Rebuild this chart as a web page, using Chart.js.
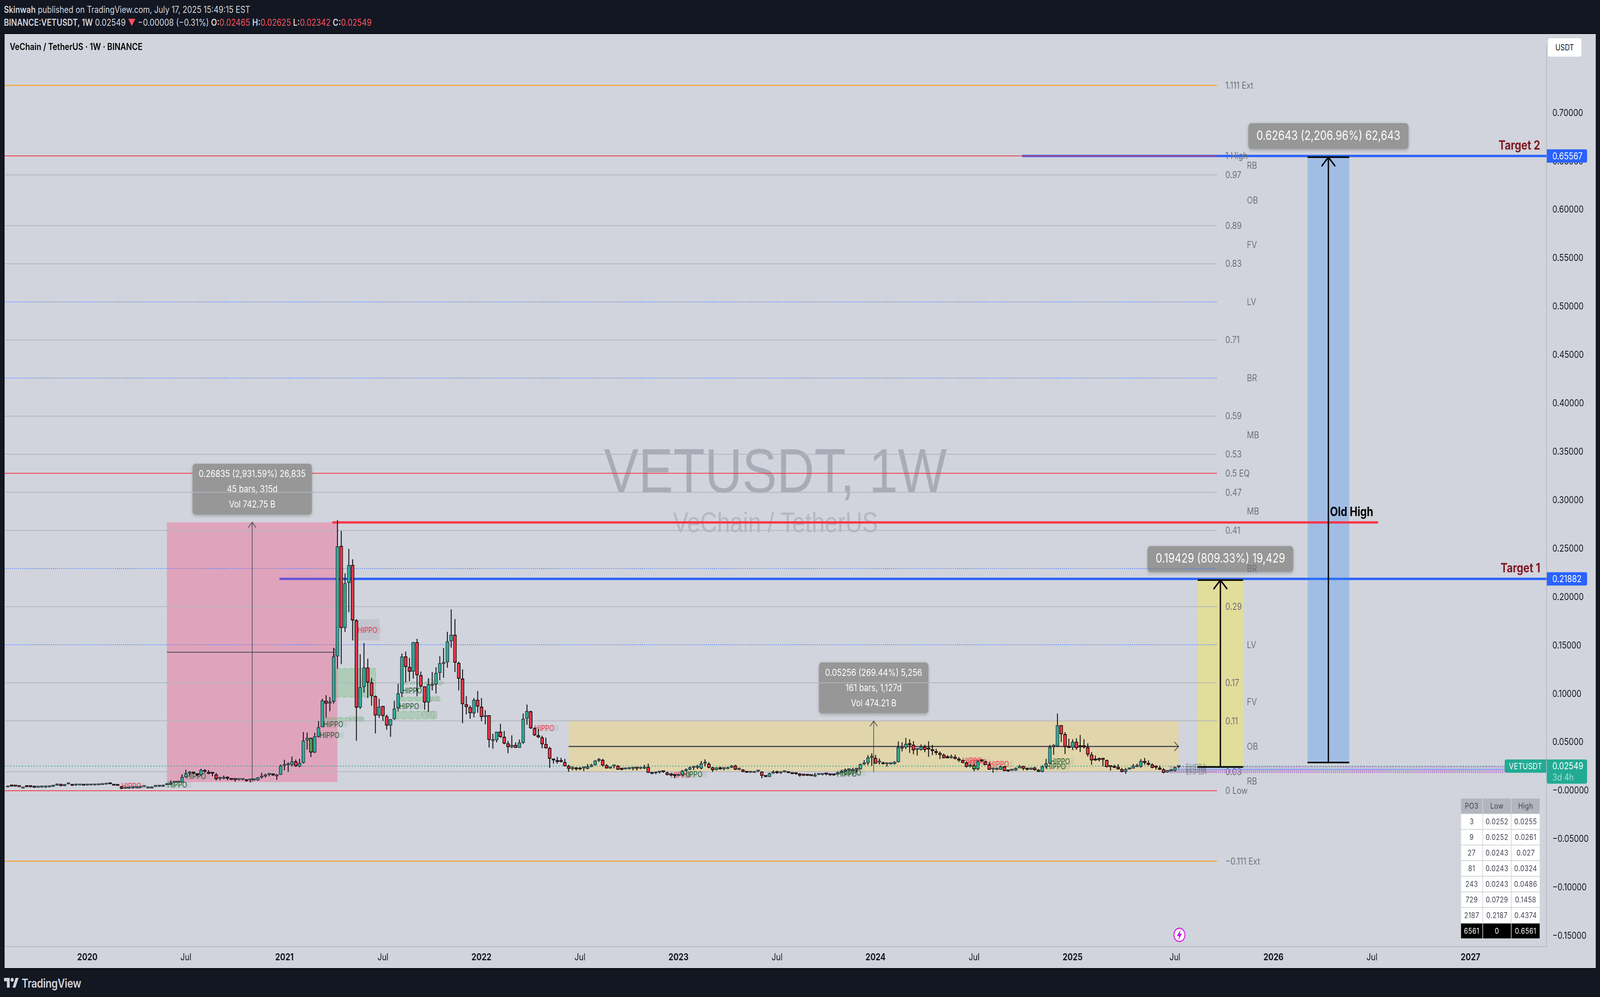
<!DOCTYPE html>
<html><head><meta charset="utf-8"><title>VETUSDT 1W</title>
<script src="https://cdn.jsdelivr.net/npm/chart.js@4/dist/chart.umd.min.js"></script>
<style>
html,body{margin:0;padding:0;background:#131722;width:100%;height:100%;overflow:hidden;font-family:Inter,"Liberation Sans",sans-serif}
#root{position:absolute;left:0;top:0;width:4938px;height:2552px;transform-origin:0 0;background:#131722;overflow:hidden}
#frame{position:absolute;left:12px;top:85px;width:4914px;height:2395px;background:#000}
#pane{position:absolute;left:14px;top:87px;width:4911px;height:2391px;background:#d1d4dc}
canvas{display:block}
.h{position:absolute;white-space:nowrap;color:#d1d4dc;font-size:23.8px;line-height:30px;left:12px}
.r{color:#f7525f}
b{font-weight:600}
#title{position:absolute;left:30px;top:105px;font-size:24px;line-height:30px;font-weight:600;color:#000;white-space:nowrap}
#unit{position:absolute;left:4777px;top:98px;width:104px;height:47px;line-height:47px;background:#fff;border-radius:6px;text-align:center;font-size:21px;color:#131722}
#logoText{position:absolute;left:67px;top:2497px;font-size:31px;line-height:40px;font-weight:600;color:#d1d4dc;letter-spacing:-.5px}
#po3{position:absolute;left:4509px;top:2044px;display:grid;grid-template-columns:66px 86px 87px;column-gap:2px;row-gap:2px;font-size:20px;letter-spacing:.6px;color:#434651;text-align:center}
#po3 div{height:38px;line-height:38px;background:#fff}
#po3 div.hd{background:#b2b5be}
#po3 div.ft{background:#000;color:#fff}
</style></head><body>
<div id="root">
<div class="h" style="top:10px"><b>Skinwah</b> published on TradingView.com, July 17, 2025 15:49:15 EST</div>
<div class="h" style="top:43px"><b>BINANCE:VETUSDT, 1W</b> 0.02549 <span class="r">▼</span> −0.00008 (−0.31%) <b>O:</b><span class="r">0.02465</span> <b>H:</b><span class="r">0.02625</span> <b>L:</b><span class="r">0.02342</span> <b>C:</b><span class="r">0.02549</span></div>
<div id="frame"></div>
<div id="pane"><canvas id="c" width="4911" height="2391" style="width:4911px;height:2391px"></canvas></div>
<div id="title">VeChain / TetherUS · 1W · BINANCE</div>
<div id="unit">USDT</div>
<div id="po3"></div>
<svg style="position:absolute;left:3620px;top:2373px" width="40" height="40" viewBox="0 0 40 40"><circle cx="20" cy="20" r="17" fill="#fff" stroke="#d81be0" stroke-width="3"/><path d="M23 7 L12 23 H19 L17 33 L28 17 H21 Z" fill="#b81bd8"/></svg>
<svg style="position:absolute;left:12px;top:2503px" width="46" height="25" viewBox="0 0 36 20"><path fill="#d1d4dc" d="M14 20H7V7H0V0h14zM28 20h-7L28.5 0H36z"/><circle cx="20" cy="4" r="4" fill="#d1d4dc"/></svg>
<div id="logoText">TradingView</div>
</div>
<script>
// The browser window can be narrower than the page: fit the whole page into it.
const rootEl=document.getElementById('root');
rootEl.style.transform='scale('+(innerWidth/4938)+','+(innerHeight/2552)+')';

// ---- candle values, oldest to newest, one entry per week
const opens=[.0052,.0047,.0046,.0041,.0040,.0040,.0040,.0035,.0034,.0035,
.0037,.0038,.0043,.0055,.0070,.0050,.0068,.0068,.0056,.0057,
.0056,.0056,.0057,.0058,.0059,.0062,.0066,.0073,.0066,.0055,
.0045,.0024,.0025,.0027,.0030,.0032,.0040,.0042,.0042,.0042,
.0043,.0043,.0061,.0066,.0084,.0087,.0087,.0141,.0180,.0184,
.0175,.0162,.0214,.0194,.0180,.0167,.0125,.0125,.0139,.0126,
.0114,.0113,.0114,.0116,.0110,.0111,.0109,.0137,.0150,.0167,
.0161,.0166,.0166,.0258,.0266,.0269,.0303,.0253,.0289,.0520,
.0397,.0397,.0559,.0658,.0928,.0903,.0922,.1389,.2528,.1682,
.2148,.2331,.1758,.0861,.1072,.1272,.1117,.0977,.0779,.0875,
.0769,.0675,.0742,.0853,.1009,.1386,.1277,.1232,.1535,.1193,
.1078,.0913,.1102,.1099,.1218,.1328,.1327,.1546,.1610,.1320,
.1157,.0893,.0862,.0801,.0938,.0867,.0763,.0779,.0531,.0523,
.0608,.0557,.0488,.0452,.0472,.0445,.0498,.0746,.0819,.0644,
.0572,.0551,.0481,.0441,.0330,.0312,.0302,.0296,.0256,.0226,
.0240,.0233,.0234,.0228,.0247,.0266,.0311,.0318,.0262,.0231,
.0254,.0257,.0225,.0223,.0226,.0229,.0231,.0230,.0230,.0244,
.0188,.0182,.0189,.0195,.0188,.0168,.0160,.0156,.0160,.0206,
.0220,.0240,.0240,.0232,.0282,.0278,.0240,.0216,.0238,.0226,
.0226,.0240,.0259,.0220,.0218,.0196,.0188,.0187,.0200,.0196,
.0156,.0144,.0180,.0200,.0184,.0193,.0193,.0184,.0178,.0177,
.0164,.0162,.0157,.0148,.0166,.0166,.0177,.0170,.0176,.0171,
.0187,.0200,.0213,.0207,.0220,.0224,.0274,.0286,.0342,.0337,
.0293,.0290,.0277,.0276,.0277,.0297,.0453,.0448,.0484,.0474,
.0425,.0423,.0456,.0430,.0425,.0409,.0389,.0370,.0342,.0339,
.0349,.0330,.0315,.0290,.0249,.0224,.0224,.0313,.0303,.0269,
.0223,.0218,.0220,.0249,.0206,.0210,.0211,.0235,.0255,.0229,
.0220,.0238,.0196,.0196,.0250,.0283,.0457,.0461,.0676,.0584,
.0456,.0448,.0504,.0452,.0452,.0448,.0372,.0326,.0326,.0323,
.0317,.0248,.0249,.0246,.0222,.0196,.0222,.0232,.0248,.0249,
.0306,.0286,.0270,.0242,.0237,.0220,.0191,.0204,.0206,.02465];
const highs=[.0053,.0048,.0047,.0042,.0041,.0041,.0040,.0036,.0036,.0037,
.0039,.0042,.0056,.0074,.0071,.0068,.0075,.0070,.0058,.0059,
.0057,.0058,.0060,.0060,.0062,.0067,.0075,.0074,.0067,.0057,
.0047,.0027,.0028,.0031,.0034,.0041,.0044,.0044,.0044,.0044,
.0045,.0062,.0076,.0105,.0090,.0090,.0169,.0216,.0201,.0190,
.0180,.0226,.0221,.0212,.0187,.0182,.0141,.0155,.0146,.0129,
.0116,.0115,.0122,.0118,.0116,.0117,.0140,.0185,.0176,.0178,
.0178,.0173,.0269,.0319,.0292,.0351,.0321,.0330,.0605,.0600,
.0548,.0597,.0719,.0948,.0986,.0967,.1473,.2795,.2684,.2245,
.2497,.2390,.1772,.1409,.1525,.1362,.1164,.0983,.0948,.0875,
.0785,.0739,.0928,.1105,.1417,.1437,.1371,.1535,.1569,.1230,
.1078,.1161,.1226,.1274,.1389,.1473,.1640,.1871,.1772,.1331,
.1252,.0976,.0880,.0956,.1029,.0956,.0830,.0779,.0587,.0608,
.0690,.0617,.0514,.0571,.0498,.0527,.0797,.0889,.0826,.0655,
.0637,.0567,.0547,.0452,.0330,.0348,.0339,.0328,.0266,.0253,
.0243,.0243,.0243,.0273,.0277,.0315,.0336,.0328,.0273,.0249,
.0260,.0262,.0230,.0235,.0240,.0233,.0233,.0240,.0266,.0279,
.0193,.0196,.0196,.0196,.0196,.0173,.0166,.0173,.0213,.0229,
.0249,.0250,.0266,.0306,.0323,.0293,.0246,.0240,.0249,.0240,
.0246,.0266,.0266,.0233,.0222,.0200,.0196,.0200,.0206,.0200,
.0158,.0187,.0209,.0206,.0193,.0200,.0196,.0186,.0182,.0180,
.0167,.0166,.0160,.0183,.0180,.0173,.0180,.0176,.0177,.0192,
.0213,.0229,.0230,.0236,.0233,.0279,.0315,.0366,.0385,.0368,
.0332,.0299,.0283,.0285,.0306,.0509,.0498,.0545,.0531,.0511,
.0431,.0478,.0474,.0511,.0472,.0432,.0405,.0382,.0366,.0372,
.0372,.0346,.0320,.0299,.0279,.0279,.0315,.0320,.0306,.0293,
.0233,.0240,.0257,.0253,.0213,.0222,.0240,.0266,.0256,.0236,
.0238,.0246,.0223,.0262,.0328,.0472,.0478,.0797,.0677,.0604,
.0538,.0531,.0541,.0575,.0531,.0488,.0399,.0363,.0342,.0326,
.0319,.0250,.0266,.0273,.0235,.0235,.0240,.0276,.0279,.0326,
.0337,.0312,.0283,.0260,.0260,.0233,.0213,.0222,.0246,.02625];
const lows=[.0051,.0045,.0044,.0039,.0039,.0038,.0038,.0033,.0033,.0034,
.0030,.0037,.0042,.0054,.0049,.0049,.0066,.0052,.0052,.0056,
.0054,.0055,.0056,.0057,.0058,.0061,.0065,.0068,.0054,.0051,
.0017,.0021,.0022,.0025,.0027,.0030,.0039,.0040,.0039,.0040,
.0041,.0042,.0060,.0064,.0083,.0085,.0085,.0137,.0164,.0175,
.0155,.0158,.0185,.0173,.0151,.0109,.0110,.0120,.0110,.0112,
.0096,.0108,.0110,.0096,.0087,.0105,.0105,.0127,.0137,.0151,
.0155,.0114,.0165,.0212,.0196,.0253,.0248,.0244,.0283,.0426,
.0349,.0390,.0552,.0658,.0757,.0823,.0902,.1263,.1309,.1641,
.1846,.1554,.0518,.0846,.1016,.0960,.0879,.0594,.0754,.0722,
.0631,.0559,.0734,.0823,.0970,.1123,.1132,.1161,.0978,.1066,
.0839,.0816,.1038,.1006,.1144,.1168,.1273,.1480,.1228,.1038,
.0700,.0790,.0744,.0759,.0807,.0720,.0688,.0449,.0436,.0501,
.0548,.0481,.0389,.0441,.0445,.0445,.0485,.0684,.0640,.0568,
.0548,.0441,.0437,.0239,.0282,.0282,.0294,.0253,.0196,.0213,
.0210,.0217,.0206,.0225,.0245,.0262,.0299,.0250,.0230,.0230,
.0233,.0217,.0213,.0222,.0223,.0213,.0213,.0225,.0226,.0186,
.0173,.0173,.0180,.0187,.0160,.0153,.0131,.0153,.0156,.0200,
.0216,.0216,.0226,.0224,.0253,.0233,.0196,.0213,.0220,.0213,
.0226,.0237,.0216,.0213,.0193,.0186,.0186,.0186,.0193,.0131,
.0142,.0143,.0177,.0177,.0177,.0190,.0183,.0172,.0168,.0147,
.0153,.0155,.0152,.0145,.0164,.0160,.0160,.0156,.0158,.0168,
.0185,.0197,.0205,.0203,.0193,.0222,.0266,.0266,.0260,.0279,
.0273,.0273,.0250,.0272,.0273,.0293,.0408,.0432,.0392,.0379,
.0366,.0415,.0399,.0352,.0370,.0372,.0330,.0336,.0336,.0335,
.0326,.0299,.0285,.0240,.0243,.0203,.0213,.0299,.0269,.0217,
.0187,.0213,.0217,.0202,.0196,.0206,.0207,.0233,.0213,.0213,
.0217,.0209,.0193,.0191,.0233,.0279,.0372,.0458,.0505,.0381,
.0442,.0421,.0425,.0401,.0438,.0355,.0270,.0310,.0306,.0253,
.0243,.0210,.0236,.0220,.0190,.0176,.0220,.0230,.0246,.0240,
.0270,.0262,.0233,.0220,.0216,.0183,.0187,.0201,.0200,.02342];
const closes=[.0052,.0046,.0045,.0040,.0040,.0039,.0039,.0034,.0035,.0036,
.0038,.0041,.0055,.0073,.0050,.0068,.0071,.0053,.0057,.0058,
.0055,.0057,.0059,.0059,.0062,.0066,.0074,.0070,.0055,.0053,
.0023,.0025,.0027,.0030,.0032,.0040,.0042,.0042,.0042,.0043,
.0044,.0061,.0068,.0084,.0087,.0089,.0141,.0180,.0184,.0180,
.0160,.0214,.0198,.0176,.0178,.0123,.0127,.0141,.0127,.0114,
.0113,.0114,.0119,.0102,.0111,.0112,.0137,.0148,.0167,.0168,
.0160,.0166,.0258,.0266,.0271,.0303,.0255,.0287,.0517,.0545,
.0545,.0561,.0655,.0932,.0903,.0917,.1386,.2524,.1682,.2143,
.2331,.1761,.0861,.1069,.1272,.1120,.0981,.0779,.0868,.0774,
.0675,.0739,.0849,.1004,.1386,.1280,.1232,.1535,.1195,.1079,
.0913,.1098,.1102,.1217,.1317,.1328,.1543,.1610,.1325,.1159,
.0896,.0866,.0803,.0938,.0870,.0763,.0779,.0527,.0531,.0608,
.0558,.0489,.0452,.0472,.0445,.0497,.0744,.0823,.0647,.0574,
.0554,.0482,.0442,.0332,.0316,.0299,.0300,.0255,.0229,.0240,
.0224,.0222,.0235,.0249,.0267,.0311,.0318,.0262,.0233,.0249,
.0258,.0220,.0220,.0226,.0228,.0231,.0230,.0236,.0244,.0187,
.0176,.0187,.0193,.0194,.0164,.0160,.0155,.0168,.0206,.0220,
.0242,.0246,.0246,.0282,.0287,.0240,.0216,.0240,.0224,.0233,
.0240,.0258,.0220,.0224,.0196,.0188,.0193,.0198,.0203,.0156,
.0144,.0180,.0198,.0184,.0193,.0197,.0184,.0175,.0173,.0157,
.0158,.0156,.0154,.0166,.0173,.0173,.0171,.0163,.0160,.0189,
.0200,.0217,.0220,.0220,.0226,.0274,.0286,.0342,.0344,.0282,
.0294,.0277,.0278,.0278,.0297,.0449,.0453,.0484,.0474,.0419,
.0426,.0456,.0423,.0427,.0411,.0392,.0371,.0339,.0338,.0350,
.0331,.0313,.0290,.0249,.0263,.0262,.0306,.0306,.0269,.0220,
.0225,.0226,.0249,.0206,.0202,.0216,.0233,.0255,.0229,.0220,
.0238,.0216,.0216,.0250,.0282,.0449,.0459,.0676,.0587,.0456,
.0445,.0504,.0443,.0451,.0451,.0375,.0315,.0314,.0319,.0322,
.0246,.0247,.0240,.0224,.0196,.0222,.0230,.0257,.0259,.0306,
.0289,.0270,.0240,.0241,.0220,.0187,.0213,.0217,.0242,.02549];
const greenCandles=[80,255,272];

// ---- axes
const priceTicks=[0.7,0.65,0.6,0.55,0.5,0.45,0.4,0.35,0.3,0.25,0.2,0.15,0.1,0.05,0,-0.05,-0.1,-0.15];
const timeTickBars=[21,47,73,99,125,151,177,203,229,255,281,308,334,360,386];
const timeTickLabels=['2020','Jul','2021','Jul','2022','Jul','2023','Jul','2024','Jul','2025','Jul','2026','Jul','2027'];

// ---- fibonacci levels
const fibHigh=0.6558;
const fibLevels=[1.111,1,0.97,0.89,0.83,0.77,0.71,0.65,0.59,0.53,0.5,0.47,0.41,0.35,0.29,0.23,0.17,0.11,0.03,0,-0.111];
const fibLabels=['1.111 Ext','1 High','0.97','0.89','0.83','','0.71','','0.59','0.53','0.5 EQ','0.47','0.41','','0.29','','0.17','0.11','0.03','0 Low','−0.111 Ext'];
const fibKinds=['ext','red','g','g','g','dot','g','dot','g','g','red','g','g','dot','g','dot','g','g','g','red','ext'];
const zoneLevels=[0.985,0.93,0.86,0.77,0.65,0.56,0.44,0.35,0.23,0.14,0.07,0.015];
const zoneLabels=['RB','OB','FV','LV','BR','MB','MB','BR','LV','FV','OB','RB'];

// ---- measure drawings
const measureStart=[42,148,314,343];
const measureEnd=[87,309,326,354];
const measureLow=[0.00896,0.0195,0.02453,0.02924];
const measureHigh=[0.27731,0.07206,0.21882,0.65567];
const measureText=[['0.26835 (2,931.59%) 26,835','45 bars, 315d','Vol 742.75 B'],
['0.05256 (269.44%) 5,256','161 bars, 1,127d','Vol 474.21 B'],
['0.19429 (809.33%) 19,429'],['0.62643 (2,206.96%) 62,643']];
const measureFill=['rgba(255,52,116,.3)','rgba(255,215,80,.35)','rgba(255,238,34,.35)','rgba(49,135,250,.3)'];

// ---- horizontal rays
const rayPrice=[0.21882,0.65567];
const rayFrom=[71.7,267.7];
const oldHighPrice=0.2772, oldHighFrom=85.85, oldHighTo=361.4;
const lastPrice=0.02549;
const sessionPrices=[0.0246,0.0222,0.0206,0.0190];
const sessionBlue=0.0221;

// ---- fair value gaps
const fvgFrom=[86.5,83.4,104.5,103.4,102.2];
const fvgTo=[97.1,94.1,115.1,114.1,113.2];
const fvgTop=[0.1263,0.0756,0.1124,0.0968,0.0821];
const fvgBottom=[0.0968,0.0719,0.1104,0.0928,0.0742];

// ---- HIPPO markers
const hippoBars=[30,42.1,47.1,82.3,83.3,92.3,104.1,103.3,139,174.9,178.1,218.8,220,251.9,253.2,259,275.1,274];
const hippoPrices=[.0050,.0062,.0149,.0575,.0686,.1661,.1033,.0873,.0647,.0161,.0169,.0173,.0185,.0312,.0292,.0273,.0304,.0249];
const hippoUp=[0,1,1,1,1,0,1,1,0,0,1,1,1,0,0,0,1,1];
const hippoShade={from:91.1,to:98.1,top:.1771,bottom:.1552};

// ---- small session text near the last candle
const sessionTextBars=[310.9,310.9,310.9];
const sessionTextPrices=[.0245,.0217,.0189];
const sessionTexts=['EHPBA','EHPDA','EHPDA'];

// ---- table
const po3Head=['PO3','Low','High'];
const po3Rows=[['3','0.0252','0.0255'],['9','0.0252','0.0261'],['27','0.0243','0.027'],['81','0.0243','0.0324'],['243','0.0243','0.0486'],['729','0.0729','0.1458'],['2187','0.2187','0.4374'],['6561','0','0.6561']];

const t=document.getElementById('po3');
function cell(s,c){const d=document.createElement('div');d.textContent=s;if(c)d.className=c;t.appendChild(d);}
po3Head.forEach(s=>cell(s,'hd'));
po3Rows.forEach((r,i)=>r.forEach(s=>cell(s,i===po3Rows.length-1?'ft':'')));

const bars=opens.map((_,i)=>i);
const UP='#2bae97',DOWN='#f7374a',GREEN='#4caf50';
const isUp=i=>closes[i]>=opens[i];
const bodyFill=bars.map(i=>greenCandles.includes(i)?GREEN:(isUp(i)?UP:DOWN));
const bodyLine=bars.map(i=>(isUp(i)&&!greenCandles.includes(i))?'#2e3340':'#000');

const LEFT=-0.855, RIGHT=406.07;
const FONT='Inter,"Liberation Sans",sans-serif';

function hline(ctx,x1,x2,y,col,w,dash){ctx.save();ctx.strokeStyle=col;ctx.lineWidth=w;ctx.setLineDash(dash||[]);ctx.beginPath();ctx.moveTo(x1,y);ctx.lineTo(x2,y);ctx.stroke();ctx.restore();}
function vline(ctx,x,y1,y2,col,w){ctx.save();ctx.strokeStyle=col;ctx.lineWidth=w;ctx.beginPath();ctx.moveTo(x,y1);ctx.lineTo(x,y2);ctx.stroke();ctx.restore();}
function poly(ctx,p,col,w){ctx.save();ctx.strokeStyle=col;ctx.lineWidth=w;ctx.lineCap='round';ctx.lineJoin='round';ctx.beginPath();p.forEach((q,i)=>i?ctx.lineTo(q[0],q[1]):ctx.moveTo(q[0],q[1]));ctx.stroke();ctx.restore();}
function txt(ctx,s,x,y,font,col,al){ctx.font=font;ctx.fillStyle=col;ctx.textAlign=al||'left';ctx.textBaseline='middle';ctx.fillText(s,x,y);}

const drawings={id:'drawings',
beforeDatasetsDraw(chart){
 const ctx=chart.ctx,X=v=>chart.scales.x.getPixelForValue(v),Y=v=>chart.scales.y.getPixelForValue(v),A=chart.chartArea;
 ctx.save();
 // watermark
 txt(ctx,'VETUSDT, 1W',2379,1129,'160px "Liberation Sans"','#a9acb7','center');
 txt(ctx,'VeChain / TetherUS',2379,1255,'72px "Liberation Sans"','#b5b7c1','center');
 // blue rays under the shaded boxes
 rayPrice.forEach((p,i)=>hline(ctx,X(rayFrom[i]),A.right,Y(p),'#2962ff',6));
 // shaded boxes
 measureStart.forEach((s,i)=>{ctx.fillStyle=measureFill[i];ctx.fillRect(X(s),Y(measureHigh[i]),X(measureEnd[i])-X(s),Y(measureLow[i])-Y(measureHigh[i]));});
 // fvg
 fvgFrom.forEach((f,i)=>{const x=X(f),y=Y(fvgTop[i]),w=X(fvgTo[i])-x,h=Y(fvgBottom[i])-y;
  ctx.fillStyle='rgba(76,175,80,.25)';ctx.fillRect(x,y,w,h);
  ctx.save();ctx.strokeStyle='rgba(76,175,80,.35)';ctx.lineWidth=2;ctx.setLineDash([14,8]);ctx.strokeRect(x,y,w,h);ctx.restore();
  txt(ctx,'FVG',x+w-4,y+h/2,'22px '+FONT,'rgba(120,123,134,.3)','right');});
 // red half-line under the label box
 fibLevels.forEach((l,i)=>{if(l===0.5)hline(ctx,X(LEFT),X(319.1),Y(l*fibHigh),'#f23645',2);});
 // measure labels
 measureStart.forEach((s,i)=>{const lines=measureText[i],big=lines.length===1,c=X((s+measureEnd[i])/2);
  const font=(big?'32px ':'24.3px ')+FONT;ctx.font=font;
  const w=Math.max(...lines.map(l=>ctx.measureText(l).width))+(big?50:38),h=big?66:130,b=Y(measureHigh[i])-(big?18:20);
  ctx.save();ctx.shadowColor='rgba(0,0,0,.25)';ctx.shadowBlur=8;ctx.shadowOffsetY=3;ctx.fillStyle='#979797';ctx.beginPath();ctx.roundRect(c-w/2,b-h,w,h,9);ctx.fill();ctx.restore();
  lines.forEach((l,k)=>txt(ctx,l,c,big?b-h/2:b-h+27+39*k,font,'#fff','center'));});
 // fib lines and labels
 fibLevels.forEach((l,i)=>{const y=Y(l*fibHigh),k=fibKinds[i],x1=X(LEFT),x2=X(319.1);
  if(k==='g')hline(ctx,x1,x2,y,'#b2b5be',2);
  else if(k==='ext')hline(ctx,x1,x2,y,'#ff9800',2);
  else if(k==='dot')hline(ctx,x1,x2,y,'#2962ff',2,[2,4]);
  else if(l!==0.5)hline(ctx,x1,x2,y,'#f23645',2);
  if(fibLabels[i])txt(ctx,fibLabels[i],X(321.3),y+1,'24px '+FONT,'#6f7079');});
 zoneLevels.forEach((l,i)=>txt(ctx,zoneLabels[i],X(327),Y(l*fibHigh)+1,'24px '+FONT,'#6f7079'));
 // session lines
 sessionPrices.forEach(p=>hline(ctx,X(306.6),X(395),Y(p),'rgba(171,71,188,.75)',3,[3,3]));
 hline(ctx,X(306.6),X(395),Y(sessionBlue),'rgba(80,160,255,.8)',2);
 sessionTexts.forEach((s,i)=>txt(ctx,s,X(sessionTextBars[i]),Y(sessionTextPrices[i]),'19px '+FONT,'rgba(120,123,134,.85)'));
 hline(ctx,X(LEFT),X(395),Y(lastPrice),'#22ab94',2.5,[3,6]);
 // old high
 ctx.save();ctx.lineCap='round';hline(ctx,X(oldHighFrom),X(oldHighTo),Y(oldHighPrice),'#f7374a',6);ctx.restore();
 // hippo
 ctx.fillStyle='rgba(120,123,134,.15)';ctx.fillRect(X(hippoShade.from),Y(hippoShade.top),X(hippoShade.to)-X(hippoShade.from),Y(hippoShade.bottom)-Y(hippoShade.top));
 hippoBars.forEach((b,i)=>{const x=X(b),y=Y(hippoPrices[i]);
  ctx.fillStyle='rgba(120,123,134,.1)';ctx.fillRect(x-2,y-8,76,16);
  txt(ctx,'HIPPO',x,y+1,'20px '+FONT,hippoUp[i]?'#1b5e20':'#f7374a');});
 // measure arrows (thin)
 [0,1].forEach(i=>{const c=X((measureStart[i]+measureEnd[i])/2),x1=X(measureStart[i]),x2=X(measureEnd[i]),top=Y(measureHigh[i]),bot=Y(measureLow[i]),mid=Y((measureHigh[i]+measureLow[i])/2);
  vline(ctx,c,bot,top,'#434651',2);hline(ctx,x1,x2,mid,'#434651',i?3:2);
  poly(ctx,[[c-11,top+13],[c,top],[c+11,top+13]],'#434651',2);
  poly(ctx,[[x2-13,mid-11],[x2,mid],[x2-13,mid+11]],'#434651',2);});
 ctx.restore();
},
afterDatasetsDraw(chart){
 const ctx=chart.ctx,X=v=>chart.scales.x.getPixelForValue(v),Y=v=>chart.scales.y.getPixelForValue(v);
 ctx.save();
 // target arrows (heavy)
 [2,3].forEach(i=>{const c=X((measureStart[i]+measureEnd[i])/2),x1=X(measureStart[i]),x2=X(measureEnd[i]),top=Y(measureHigh[i])+3,bot=Y(measureLow[i]);
  hline(ctx,x1,x2,top,'#000',4);hline(ctx,x1,x2,bot,'#000',4);vline(ctx,c,bot,top,'#000',4);
  poly(ctx,[[c-20,top+22],[c,top],[c+20,top+22]],'#000',4);});
 txt(ctx,'Old High',X(348.9),Y(oldHighPrice)-26,'bold 32px '+FONT,'#000');
 txt(ctx,'Target 1',X(404.4),Y(rayPrice[0])-26,'bold 32px '+FONT,'#801922','right');
 txt(ctx,'Target 2',X(404.4),Y(rayPrice[1])-26,'bold 32px '+FONT,'#801922','right');
 ctx.restore();
},
afterDraw(chart){
 const ctx=chart.ctx,Y=v=>chart.scales.y.getPixelForValue(v),R=chart.chartArea.right;
 ctx.save();
 rayPrice.forEach(p=>{const y=Y(p);ctx.fillStyle='#2962ff';ctx.beginPath();ctx.roundRect(R+1,y-17,124,34,[0,4,4,0]);ctx.fill();
  txt(ctx,p.toFixed(5),R+18,y+1,'24px '+FONT,'#fff');});
 const y=Y(lastPrice);
 ctx.fillStyle='#22ab94';ctx.beginPath();ctx.roundRect(R-129,y-17,128,34,[5,0,0,5]);ctx.fill();
 txt(ctx,'VETUSDT',R-65,y+1,'22px '+FONT,'#fff','center');
 ctx.fillStyle='#22ab94';ctx.beginPath();ctx.roundRect(R+1,y-17,124,62,[0,5,5,5]);ctx.fill();
 txt(ctx,lastPrice.toFixed(5),R+18,y+1,'24px '+FONT,'#fff');
 txt(ctx,'3d 4h',R+18,y+30,'24px '+FONT,'rgba(255,255,255,.6)');
 ctx.restore();
}};

new Chart(document.getElementById('c'),{
 type:'bar',
 data:{datasets:[
  {label:'Body',order:0,data:bars.map(i=>({x:i,y:[opens[i],closes[i]]})),backgroundColor:bodyFill,borderColor:bodyLine,borderWidth:2,borderSkipped:false,barThickness:10,minBarLength:4,grouped:false},
  {label:'Wick',order:1,data:bars.map(i=>({x:i,y:[lows[i],highs[i]]})),backgroundColor:'#000',borderWidth:0,barThickness:2,grouped:false}
 ]},
 options:{responsive:false,animation:false,devicePixelRatio:1,layout:{padding:0},
  plugins:{legend:{display:false},tooltip:{enabled:false},title:{display:false}},
  scales:{
   x:{type:'linear',offset:false,min:LEFT,max:RIGHT,grid:{display:false,drawTicks:false},
    border:{display:true,color:'#b2b5be',width:2},
    afterBuildTicks(s){s.ticks=timeTickBars.map(v=>({value:v}));},
    afterFit(s){s.height=55.5;},
    ticks:{autoSkip:false,maxRotation:0,padding:14,color:'#131722',
     font:ctx=>({family:FONT,size:24,weight:/^\d{4}$/.test(timeTickLabels[timeTickBars.indexOf(ctx.tick&&ctx.tick.value)]||'')?'700':'400'}),
     callback:v=>timeTickLabels[timeTickBars.indexOf(v)]||''}},
   y:{type:'linear',position:'right',min:-0.16077,max:0.76862,grid:{display:false,drawTicks:false},
    border:{display:true,color:'#b2b5be',width:2},
    afterBuildTicks(s){s.ticks=priceTicks.map(v=>({value:v}));},
    afterFit(s){s.width=152;},
    ticks:{autoSkip:false,padding:18,color:'#131722',font:{family:FONT,size:24},
     callback:v=>(v<=0?'−':'')+Math.abs(v).toFixed(5)}}
  }},
 plugins:[drawings]
});
</script>
</body></html>
